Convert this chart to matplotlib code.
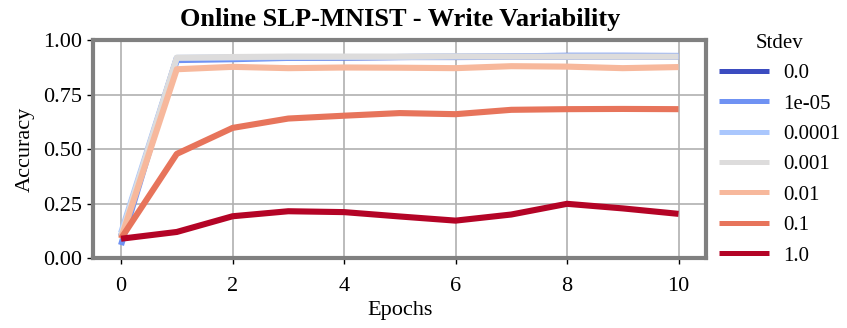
import matplotlib
matplotlib.use("Agg")
import matplotlib.pyplot as plt
import numpy as np

plt.rcParams['font.family'] = ['Liberation Serif', 'DejaVu Serif']

epochs = list(range(11))
stdev_labels = ["0.0", "1e-05", "0.0001", "0.001", "0.01", "0.1", "1.0"]

acc_0 = [0.10, 0.915, 0.918, 0.920, 0.920, 0.922, 0.922, 0.923, 0.923, 0.924, 0.924]
acc_1e5 = [0.06, 0.908, 0.912, 0.918, 0.920, 0.922, 0.924, 0.925, 0.928, 0.928, 0.927]
acc_1e4 = [0.115, 0.918, 0.920, 0.922, 0.922, 0.922, 0.924, 0.924, 0.924, 0.924, 0.924]
acc_1e3 = [0.10, 0.919, 0.922, 0.924, 0.924, 0.924, 0.925, 0.924, 0.924, 0.924, 0.924]
acc_1e2 = [0.09, 0.866, 0.877, 0.871, 0.874, 0.873, 0.871, 0.880, 0.878, 0.871, 0.876]
acc_1e1 = [0.09, 0.478, 0.597, 0.640, 0.653, 0.665, 0.660, 0.680, 0.683, 0.684, 0.683]
acc_1e0 = [0.089, 0.120, 0.192, 0.215, 0.211, 0.191, 0.172, 0.200, 0.249, 0.228, 0.203]

series = [acc_0, acc_1e5, acc_1e4, acc_1e3, acc_1e2, acc_1e1, acc_1e0]
colors = plt.cm.coolwarm(np.linspace(0, 1, len(series)))

fig = plt.figure(figsize=(8.47, 3.28), dpi=100)
ax = fig.add_axes([0.110, 0.213, 0.724, 0.665])

for vals, lab, c in zip(series, stdev_labels, colors):
    ax.plot(epochs, vals, color=c, lw=4.4, label=lab, solid_capstyle='butt')

ax.set_xlim(-0.5, 10.5)
ax.set_ylim(0, 1)
ax.set_xticks([0, 2, 4, 6, 8, 10])
ax.set_yticks([0.0, 0.25, 0.5, 0.75, 1.0])
ax.set_yticklabels(["0.00", "0.25", "0.50", "0.75", "1.00"])
ax.grid(True, color='#b0b0b0', lw=1.2)
ax.set_axisbelow(True)
for s in ax.spines.values():
    s.set_color('#808080')
    s.set_linewidth(3)
ax.tick_params(labelsize=16, length=4.5, width=1, color='black')
ax.tick_params(axis='x', pad=9)

ax.set_xlabel("Epochs", fontsize=16, labelpad=4)
ax.set_ylabel("Accuracy", fontsize=16, labelpad=6)
ax.set_title("Online SLP-MNIST - Write Variability", fontsize=19, fontweight='bold', pad=10)

leg = ax.legend(title="Stdev", loc='upper left', bbox_to_anchor=(0.99, 1.115),
                frameon=False, fontsize=15, title_fontsize=15,
                handlelength=2.4, labelspacing=0.52, handletextpad=0.7)
for h in leg.get_lines():
    h.set_linewidth(3.6)

fig.savefig("out.png", dpi=100)
